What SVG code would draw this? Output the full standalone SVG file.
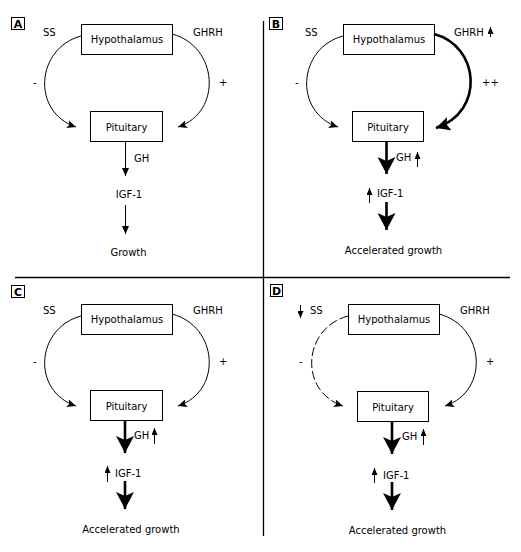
<svg xmlns="http://www.w3.org/2000/svg" width="521" height="552" viewBox="0 0 521 552">
<defs>
<style>
text{font-family:"DejaVu Sans",Verdana,sans-serif;font-size:10px;fill:#000}
.c{text-anchor:middle}
.lbl{font-weight:bold;font-size:11px;text-anchor:middle}
.box{fill:#fff;stroke:#000;stroke-width:1}
.lb{fill:none;stroke:#000;stroke-width:1}
.thin{fill:none;stroke:#000;stroke-width:1}
.thick{fill:none;stroke:#000;stroke-width:2.6}
.dash{fill:none;stroke:#000;stroke-width:1;stroke-dasharray:9,3}
.div{stroke:#000;stroke-width:1.3}
</style>
<marker id="ah" markerUnits="userSpaceOnUse" markerWidth="10" markerHeight="8" refX="9" refY="4" orient="auto"><path d="M0,0 L9,4 L0,8 L2,4 z" fill="#000"/></marker>
<marker id="ahs" markerUnits="userSpaceOnUse" markerWidth="8" markerHeight="7" refX="8" refY="3.5" orient="auto"><path d="M0,0 L8,3.5 L0,7 z" fill="#000"/></marker>
<marker id="ahb" markerUnits="userSpaceOnUse" markerWidth="18" markerHeight="18" refX="17" refY="9" orient="auto"><path d="M0,0 L17,9 L0,18 L4,9 z" fill="#000"/></marker>
<marker id="ahc" markerUnits="userSpaceOnUse" markerWidth="15" markerHeight="14" refX="14" refY="7" orient="auto"><path d="M0,0 L14,7 L0,14 L3,7 z" fill="#000"/></marker>
<marker id="ahu" markerUnits="userSpaceOnUse" markerWidth="7" markerHeight="6" refX="7" refY="3" orient="auto"><path d="M0,0 L7,3 L0,6 z" fill="#000"/></marker>
</defs>

<g id="dividers">
<line class="div" x1="263.5" y1="21" x2="263.5" y2="536"/>
<line class="div" x1="15" y1="277.5" x2="510" y2="277.5"/>
</g>

<!-- Panel A -->
<g id="labelA"><rect class="lb" x="11.5" y="17.5" width="13" height="12"/><text class="lbl" x="18" y="27.5">A</text></g>
<g id="hypoA"><rect class="box" x="81.5" y="24.5" width="91" height="30"/><text class="c" x="127" y="43">Hypothalamus</text></g>
<g id="pitA"><rect class="box" x="90.5" y="111.5" width="72" height="30"/><text class="c" x="126.5" y="130.5">Pituitary</text></g>
<g id="txtA">
<text x="43" y="36">SS</text><text x="193" y="36">GHRH</text>
<text x="33" y="86">-</text><text x="219" y="86">+</text>
<text x="134" y="162">GH</text>
<text class="c" x="129" y="198">IGF-1</text>
<text class="c" x="128.5" y="256">Growth</text>
</g>
<g id="connA">
<path class="thin" d="M81,36 C36,48 31,112 76,127" marker-end="url(#ah)"/>
<path class="thin" d="M172,34 C218,46 223,112 178,127" marker-end="url(#ah)"/>
<line class="thin" x1="125.5" y1="142" x2="125.5" y2="176" marker-end="url(#ahs)"/>
<line class="thin" x1="125.5" y1="205" x2="125.5" y2="234" marker-end="url(#ahs)"/>
</g>

<!-- Panel B -->
<g id="labelB"><rect class="lb" x="269.5" y="17.5" width="13" height="12"/><text class="lbl" x="276" y="27.5">B</text></g>
<g id="hypoB"><rect class="box" x="343.5" y="24.5" width="91" height="30"/><text class="c" x="389" y="43">Hypothalamus</text></g>
<g id="pitB"><rect class="box" x="352.5" y="111.5" width="71" height="30"/><text class="c" x="388" y="130.5">Pituitary</text></g>
<g id="txtB">
<text x="305" y="36">SS</text><text x="454" y="36">GHRH</text>
<text x="295" y="86">-</text><text x="482" y="86">++</text>
<text x="396" y="161">GH</text>
<text x="377" y="197">IGF-1</text>
<text class="c" x="393.5" y="254">Accelerated growth</text>
</g>
<g id="connB">
<path class="thin" d="M343,36 C298,48 293,112 338,127" marker-end="url(#ah)"/>
<path class="thick" d="M434,34 C480,46 485,112 436,128" marker-end="url(#ahc)"/>
<line class="thick" x1="386.5" y1="142" x2="386.5" y2="174" marker-end="url(#ahb)"/>
<line class="thick" x1="386.5" y1="202" x2="386.5" y2="230" marker-end="url(#ahb)"/>
<line class="thin" x1="490.5" y1="37" x2="490.5" y2="27" marker-end="url(#ahu)"/>
<line class="thin" x1="417.5" y1="167" x2="417.5" y2="152" marker-end="url(#ahu)"/>
<line class="thin" x1="369.5" y1="203" x2="369.5" y2="188" marker-end="url(#ahu)"/>
</g>

<!-- Panel C -->
<g id="labelC"><rect class="lb" x="11.5" y="285.5" width="13" height="12"/><text class="lbl" x="18" y="295.5">C</text></g>
<g id="hypoC"><rect class="box" x="81.5" y="304.5" width="91" height="30"/><text class="c" x="127" y="323">Hypothalamus</text></g>
<g id="pitC"><rect class="box" x="90.5" y="390.5" width="72" height="30"/><text class="c" x="126.5" y="409.5">Pituitary</text></g>
<g id="txtC">
<text x="43" y="314">SS</text><text x="193" y="314">GHRH</text>
<text x="33" y="365">-</text><text x="219" y="365">+</text>
<text x="134" y="439">GH</text>
<text x="115" y="477">IGF-1</text>
<text class="c" x="131" y="533">Accelerated growth</text>
</g>
<g id="connC">
<path class="thin" d="M81,316 C36,328 31,391 76,406" marker-end="url(#ah)"/>
<path class="thin" d="M172,314 C218,326 223,391 178,406" marker-end="url(#ah)"/>
<line class="thick" x1="125" y1="421" x2="125" y2="453" marker-end="url(#ahb)"/>
<line class="thick" x1="125" y1="481" x2="125" y2="509" marker-end="url(#ahb)"/>
<line class="thin" x1="154.5" y1="444" x2="154.5" y2="428" marker-end="url(#ahu)"/>
<line class="thin" x1="107.5" y1="482" x2="107.5" y2="466" marker-end="url(#ahu)"/>
</g>

<!-- Panel D -->
<g id="labelD"><rect class="lb" x="270.5" y="284.5" width="12" height="12"/><text class="lbl" x="276.5" y="294.5">D</text></g>
<g id="hypoD"><rect class="box" x="348.5" y="304.5" width="91" height="30"/><text class="c" x="394" y="323">Hypothalamus</text></g>
<g id="pitD"><rect class="box" x="357.5" y="391.5" width="71" height="30"/><text class="c" x="393" y="410.5">Pituitary</text></g>
<g id="txtD">
<text x="310" y="314">SS</text><text x="460" y="314">GHRH</text>
<text x="299" y="365">-</text><text x="486" y="365">+</text>
<text x="402" y="440">GH</text>
<text x="383" y="479">IGF-1</text>
<text class="c" x="397.5" y="534">Accelerated growth</text>
</g>
<g id="connD">
<path class="dash" d="M348,316 C303,328 298,391 343,406" marker-end="url(#ah)"/>
<path class="thin" d="M439,314 C485,326 490,391 445,406" marker-end="url(#ah)"/>
<line class="thin" x1="300.5" y1="305" x2="300.5" y2="318" marker-end="url(#ahu)"/>
<line class="thick" x1="392" y1="422" x2="392" y2="454" marker-end="url(#ahb)"/>
<line class="thick" x1="392" y1="482" x2="392" y2="510" marker-end="url(#ahb)"/>
<line class="thin" x1="423.5" y1="445" x2="423.5" y2="429" marker-end="url(#ahu)"/>
<line class="thin" x1="374.5" y1="483" x2="374.5" y2="468" marker-end="url(#ahu)"/>
</g>
</svg>
